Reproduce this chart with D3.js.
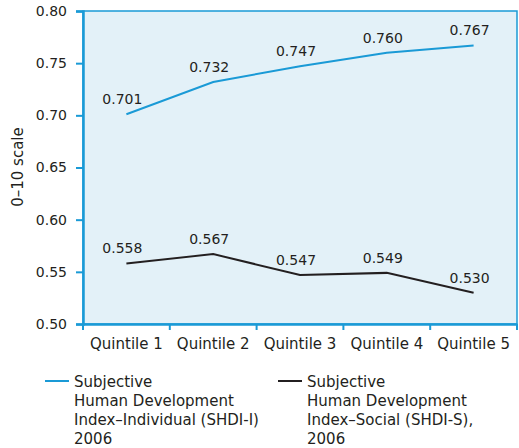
<!DOCTYPE html>
<html><head><meta charset="utf-8">
<script src="https://cdn.jsdelivr.net/npm/d3@7"></script>
<style>body{margin:0;background:#fff;} text{font-family:"DejaVu Sans",sans-serif;fill:#231f20;}</style>
</head><body>
<svg id="c" width="519" height="448"></svg>
<script>
const categories = ["Quintile 1","Quintile 2","Quintile 3","Quintile 4","Quintile 5"];
const shdiIndividual = [0.701,0.732,0.747,0.760,0.767];
const shdiSocial = [0.558,0.567,0.547,0.549,0.530];
const yTicks = [0.50,0.55,0.60,0.65,0.70,0.75,0.80];
const seriesNames = [
  ["Subjective","Human Development","Index–Individual (SHDI-I)","2006"],
  ["Subjective","Human Development","Index–Social (SHDI-S),","2006"]
];
const colors = ["#1a9ad6","#231f20"];

const svg = d3.select("#c");
const m = {l:83,r:517,t:11,b:324};
const x = d3.scaleBand().domain(categories).range([m.l,m.r]);
const y = d3.scaleLinear().domain([0.5,0.8]).range([m.b,m.t]);

svg.append("rect").attr("x",m.l).attr("y",m.t).attr("width",m.r-m.l).attr("height",m.b-m.t)
  .attr("fill","#e3f1f8").attr("stroke","#1a9ad6").attr("stroke-width",1.5);

const ya = svg.append("g").attr("transform",`translate(${m.l},0)`)
  .call(d3.axisLeft(y).tickValues(yTicks).tickFormat(d3.format(".2f")).tickSize(7).tickPadding(9));
const xa = svg.append("g").attr("transform",`translate(0,${m.b})`)
  .call(d3.axisBottom(x).tickSize(0).tickPadding(14));
[ya,xa].forEach(a=>{a.selectAll("path").attr("stroke","#1a9ad6").attr("stroke-width",2.5);
  a.selectAll("line").attr("stroke","#1a9ad6").attr("stroke-width",2);
  a.selectAll("text").attr("fill","#231f20").style("font-family","'DejaVu Sans',sans-serif");});
ya.selectAll("text").style("font-size","14px");
xa.selectAll("text").style("font-size","15px");
// x tick marks at band boundaries
svg.append("g").selectAll("line").data(categories.concat(["end"])).join("line")
  .attr("x1",(d,i)=> i<categories.length ? x(d) : m.r).attr("x2",(d,i)=> i<categories.length ? x(d) : m.r)
  .attr("y1",m.b).attr("y2",m.b+6).attr("stroke","#1a9ad6").attr("stroke-width",2);

svg.append("text").attr("transform","translate(23,167) rotate(-90)").attr("text-anchor","middle")
  .style("font-size","15px").text("0–10 scale");

const line = d3.line().x((d,i)=>x(categories[i])+x.bandwidth()/2).y(d=>y(d));
[shdiIndividual,shdiSocial].forEach((s,k)=>{
  svg.append("path").datum(s).attr("d",line).attr("fill","none").attr("stroke",colors[k]).attr("stroke-width",2);
  svg.append("g").selectAll("text").data(s).join("text")
    .attr("x",(d,i)=>x(categories[i])+x.bandwidth()/2-4)
    .attr("y",d=>y(d)-10).attr("text-anchor","middle").style("font-size","14px")
    .text(d=>d3.format(".3f")(d));
});

const legX = [45,278];
seriesNames.forEach((lines,k)=>{
  const g = svg.append("g");
  g.append("line").attr("x1",legX[k]).attr("x2",legX[k]+24).attr("y1",381).attr("y2",381)
    .attr("stroke",colors[k]).attr("stroke-width",2);
  g.append("text").attr("x",legX[k]+29).attr("y",387).style("font-size","15px")
    .selectAll("tspan").data(lines).join("tspan").attr("x",legX[k]+29).attr("dy",(d,i)=>i?19:0).text(d=>d);
});
</script>
</body></html>
